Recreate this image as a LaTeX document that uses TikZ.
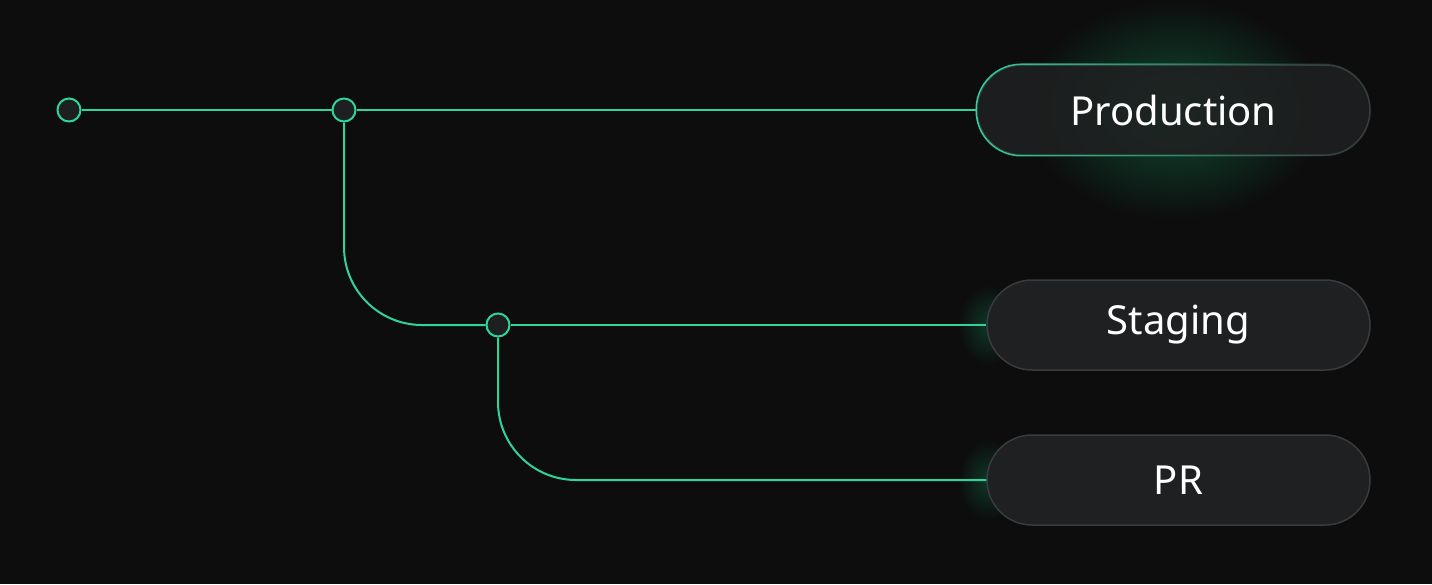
\documentclass[tikz,border=0pt]{standalone}
\usepackage{fontspec}
\setmainfont{Noto Sans}
\usetikzlibrary{fadings}
\definecolor{bgdark}{HTML}{0D0D0D}
\definecolor{wiregreen}{HTML}{2FD49A}
\definecolor{glowgreen}{HTML}{0F4A33}
\definecolor{boxfill}{HTML}{1F2021}
\definecolor{boxline}{HTML}{3A3B3C}
\definecolor{dotfill}{HTML}{1E1F20}
\tikzset{
  wire/.style={draw=wiregreen, line width=2pt},
  dot/.style={circle, draw=wiregreen, fill=dotfill, line width=2pt,
    minimum size=23pt, inner sep=0pt},
  envbox/.style={rounded corners=45pt, draw=boxline, fill=boxfill,
    line width=1.5pt, minimum width=383pt, minimum height=90pt,
    text=white, font=\fontsize{40}{46}\selectfont},
}
\begin{document}
\begin{tikzpicture}[x=1pt, y=-1pt]
    \fill[bgdark] (0,0) rectangle (1432,584);
    \useasboundingbox (0,0) rectangle (1432,584);

    % glow behind the boxes
    \shade[inner color=glowgreen, outer color=bgdark] (1175,110) ellipse (150pt and 110pt);
    \shade[inner color=glowgreen!70!bgdark, outer color=bgdark] (988,325) ellipse (30pt and 40pt);
    \shade[inner color=glowgreen!70!bgdark, outer color=bgdark] (988,480) ellipse (30pt and 40pt);

    \node[envbox, minimum width=393pt, fill opacity=0.85, text opacity=1] (production) at (1173.5,110) {Production};
    \draw[wiregreen, line width=1.5pt, rounded corners=45pt, path fading=east]
      (production.south west) rectangle (production.north east);
    \node[envbox] (staging) at (1178.5,325) {Staging};
    \node[envbox] (pr) at (1178.5,480) {PR};

    \node[dot] (start) at (69,110) {};
    \node[dot] (split1) at (344,110) {};
    \node[dot] (split2) at (498,325) {};

    \draw[wire] (start) -- (split1);
    \draw[wire] (split1) -- (production.west);
    \draw[wire, rounded corners=78pt] (split1.south) |- (split2.west);
    \draw[wire] (split2) -- (staging.west);
    \draw[wire, rounded corners=78pt] (split2.south) |- (pr.west);
  \end{tikzpicture}
\end{document}
